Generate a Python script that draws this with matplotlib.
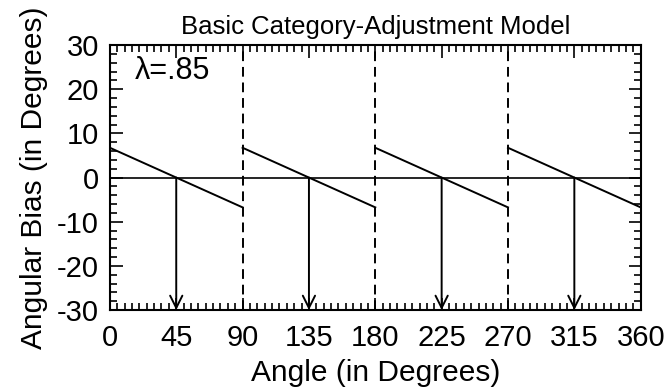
import numpy as np
import matplotlib
matplotlib.use('Agg')
import matplotlib.pyplot as plt
from matplotlib.ticker import MultipleLocator

plt.rcParams['font.family'] = ['Liberation Sans', 'DejaVu Sans']
plt.rcParams['axes.unicode_minus'] = False

lam = 0.85
prototypes = [45, 135, 225, 315]      # category centres
boundaries = [90, 180, 270]           # category edges
xticks = [0, 45, 90, 135, 180, 225, 270, 315, 360]
yticks = [-30, -20, -10, 0, 10, 20, 30]

fig = plt.figure(figsize=(6.66, 3.92), dpi=100)
ax = fig.add_axes([0.165, 0.209, 0.797, 0.676])

# bias within each quadrant: pulled toward the prototype
for p in prototypes:
    x = np.array([p - 45, p + 45])
    y = (1 - lam) * (p - x)
    ax.plot(x, y, color='black', lw=1.4)
    ax.annotate('', xy=(p, -30), xytext=(p, 0),
                arrowprops=dict(arrowstyle='->', color='black', lw=1.4,
                                mutation_scale=22, shrinkA=0, shrinkB=0))

for b in boundaries:
    ax.axvline(b, color='black', lw=1.4, ls=(0, (5, 3)))
ax.axhline(0, color='black', lw=1.2)

ax.set_xlim(0, 360)
ax.set_ylim(-30, 30)
ax.set_xticks(xticks)
ax.set_yticks(yticks)
ax.xaxis.set_minor_locator(MultipleLocator(5))
ax.yaxis.set_minor_locator(MultipleLocator(2))
ax.tick_params(which='both', direction='in', top=True, right=True,
               width=1.2, labelsize=21)
ax.tick_params(axis='x', pad=10)
ax.tick_params(axis='y', pad=8)
ax.tick_params(which='major', length=9)
ax.tick_params(which='minor', length=5)
for s in ax.spines.values():
    s.set_linewidth(1.5)

ax.text(17, 24.2, 'λ=.85', fontsize=22, va='center', ha='left')
ax.set_title('Basic Category-Adjustment Model', fontsize=18.5, pad=8)
ax.set_xlabel('Angle (in Degrees)', fontsize=21.5, labelpad=5)
ax.set_ylabel('Angular Bias (in Degrees)', fontsize=21.5, labelpad=6)

fig.savefig('out.png', dpi=100)
